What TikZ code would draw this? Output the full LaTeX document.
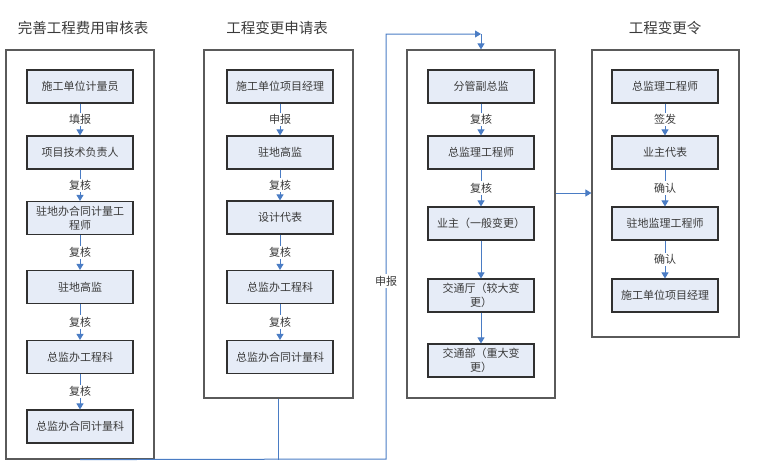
\documentclass[tikz,border=0pt]{standalone}
\usepackage{fontspec}
\setmainfont{Noto Sans CJK SC}
\usetikzlibrary{arrows.meta}
\definecolor{boxfill}{HTML}{E6ECF7}
\definecolor{conn}{HTML}{4A7CC4}
\definecolor{txt}{HTML}{3A3A3A}
\definecolor{outerc}{HTML}{5A5A5A}
\definecolor{innerc}{HTML}{303030}
\tikzset{
  outerbox/.style={draw=outerc, line width=1.2pt, fill=none, inner sep=0pt},
  innerbox/.style={draw=innerc, line width=1.1pt, fill=boxfill, minimum width=106pt, minimum height=33pt, inner sep=1pt, align=center, text=txt, font=\fontsize{11}{14}\selectfont},
  ttl/.style={text=txt, font=\fontsize{14.5}{17}\selectfont, inner sep=0pt},
  lbl/.style={fill=white, text=txt, inner sep=1.5pt, font=\fontsize{11}{13}\selectfont},
  connline/.style={draw=conn, line width=1pt},
  arr/.style={connline, -{Triangle[width=7pt,length=6pt]}}
}
\begin{document}
\begin{tikzpicture}[x=1pt,y=-1pt]
\useasboundingbox (0,0) rectangle (760,475);
% titles
\node[ttl] (t1) at (83,28) {完善工程费用审核表};
\node[ttl] (t2) at (277,28) {工程变更申请表};
\node[ttl] (t4) at (665,28) {工程变更令};
% outer boxes
\node[outerbox, minimum width=148pt, minimum height=409pt] (c1) at (80,254.5) {};
\node[outerbox, minimum width=149pt, minimum height=348pt] (c2) at (278.5,224) {};
\node[outerbox, minimum width=148pt, minimum height=348pt] (c3) at (481,224) {};
\node[outerbox, minimum width=147pt, minimum height=287pt] (c4) at (665.5,193.5) {};
% column 1
\node[innerbox] (a1) at (80,86.5) {施工单位计量员};
\node[innerbox] (a2) at (80,152.5) {项目技术负责人};
\node[innerbox] (a3) at (80,218) {驻地办合同计量工\\程师};
\node[innerbox] (a4) at (80,287) {驻地高监};
\node[innerbox] (a5) at (80,357) {总监办工程科};
\node[innerbox] (a6) at (80,426.5) {总监办合同计量科};
% column 2
\node[innerbox] (b1) at (280,86.5) {施工单位项目经理};
\node[innerbox] (b2) at (280,152.5) {驻地高监};
\node[innerbox] (b3) at (280,217.5) {设计代表};
\node[innerbox] (b4) at (280,287) {总监办工程科};
\node[innerbox] (b5) at (280,357) {总监办合同计量科};
% column 3
\node[innerbox] (d1) at (481,86.5) {分管副总监};
\node[innerbox] (d2) at (481,152.5) {总监理工程师};
\node[innerbox] (d3) at (481,223.5) {业主（一般变更）};
\node[innerbox] (d4) at (481,295.5) {交通厅（较大变\\更）};
\node[innerbox] (d5) at (481,360.5) {交通部（重大变\\更）};
% column 4
\node[innerbox] (e1) at (665,86.5) {总监理工程师};
\node[innerbox] (e2) at (665,152.5) {业主代表};
\node[innerbox] (e3) at (665,223.5) {驻地监理工程师};
\node[innerbox] (e4) at (665,295.5) {施工单位项目经理};
% arrows column 1
\draw[arr] (a1) -- node[lbl]{填报} (a2);
\draw[arr] (a2) -- node[lbl]{复核} (a3);
\draw[arr] (a3) -- node[lbl]{复核} (a4);
\draw[arr] (a4) -- node[lbl]{复核} (a5);
\draw[arr] (a5) -- node[lbl]{复核} (a6);
% arrows column 2
\draw[arr] (b1) -- node[lbl]{申报} (b2);
\draw[arr] (b2) -- node[lbl]{复核} (b3);
\draw[arr] (b3) -- node[lbl]{复核} (b4);
\draw[arr] (b4) -- node[lbl]{复核} (b5);
% arrows column 3
\draw[arr] (d1) -- node[lbl]{复核} (d2);
\draw[arr] (d2) -- node[lbl]{复核} (d3);
\draw[arr] (d3) -- (d4);
\draw[arr] (d4) -- (d5);
% arrows column 4
\draw[arr] (e1) -- node[lbl]{签发} (e2);
\draw[arr] (e2) -- node[lbl]{确认} (e3);
\draw[arr] (e3) -- node[lbl]{确认} (e4);
% loop connector
\coordinate (j) at (c2.south |- c1.south);
\coordinate (up) at (386,459);
\coordinate (tl) at (386,34);
\coordinate (tr) at (c3.north |- tl);
\draw[connline] (c2.south) -- (j);
\draw[arr] (c1.south) -- (up) -- (tl) -- (tr);
\node[lbl] (sb) at (386,281) {申报};
\draw[arr] (tr) -- (c3.north);
% column 3 to column 4
\draw[arr] (c3.east |- 0,193) -- (c4.west |- 0,193);
\end{tikzpicture}
\end{document}
